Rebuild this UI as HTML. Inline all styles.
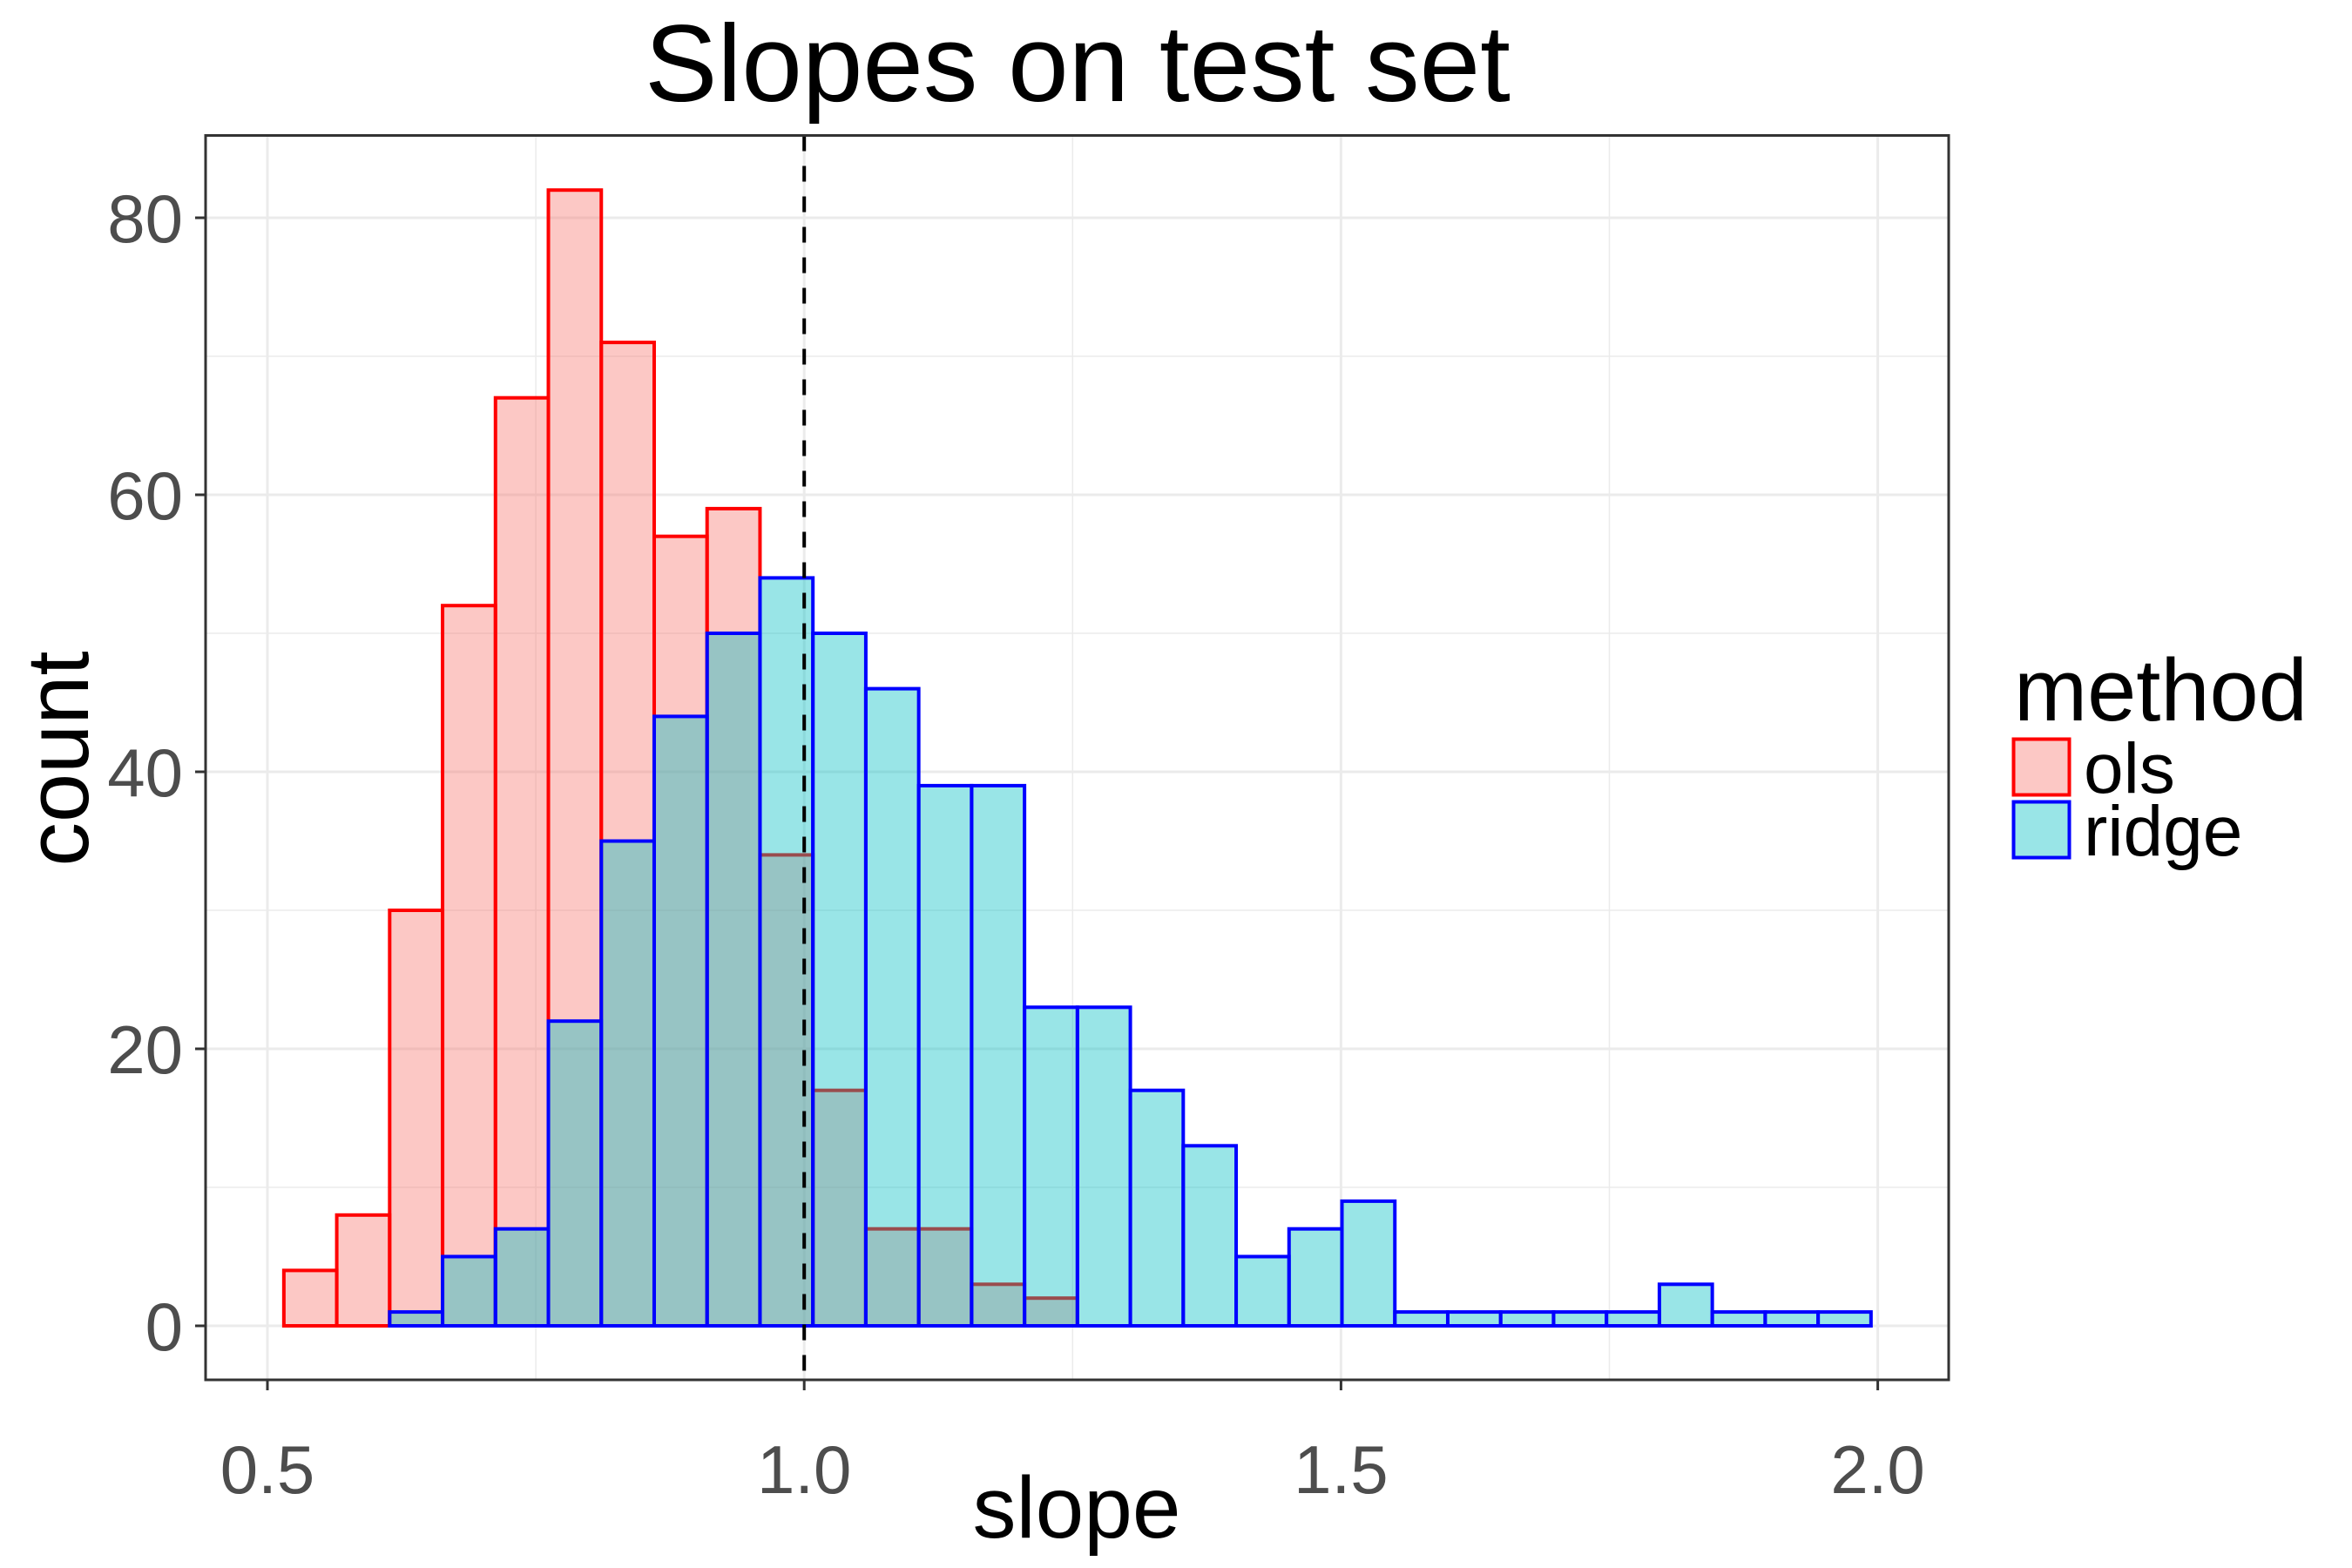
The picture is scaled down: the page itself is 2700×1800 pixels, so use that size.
<!DOCTYPE html>
<html><head><meta charset="utf-8"><style>
html,body{margin:0;padding:0;background:#fff;}
svg{display:block;font-family:"Liberation Sans",sans-serif;}
</style></head><body>
<svg id="chart" width="2700" height="1800" viewBox="0 0 2700 1800" xmlns="http://www.w3.org/2000/svg">
<rect x="0" y="0" width="2700" height="1800" fill="#fff"/>
<text x="1237" y="116" font-size="125" text-anchor="middle" fill="#000">Slopes on test set</text>
<g id="grid"></g>
<g id="bars-ols"></g>
<g id="bars-ridge"></g>
<g id="ref"></g>
<rect x="236" y="155.5" width="2001" height="1428.5" fill="none" stroke="#333" stroke-width="3"/>
<g id="axes"></g>
<text x="1236" y="1765" font-size="100" text-anchor="middle" fill="#000">slope</text>
<text x="0" y="0" font-size="101" text-anchor="middle" fill="#000" transform="translate(101,871) rotate(-90)">count</text>
<g>
<text x="2312" y="827" font-size="101" fill="#000">method</text>
<g>
<rect x="2311.5" y="848.5" width="64" height="64" fill="#F8766D" fill-opacity="0.4" stroke="#ff0000" stroke-width="4"/>
<text x="2392" y="910" font-size="82" fill="#000">ols</text>
</g>
<g>
<rect x="2311.5" y="920.5" width="64" height="64" fill="#00BFC4" fill-opacity="0.4" stroke="#0000ff" stroke-width="4"/>
<text x="2392" y="982" font-size="82" fill="#000">ridge</text>
</g>
</g>
</svg>
<script>
const binStart = 0.5153;
const binWidth = 0.04928;
const olsCounts = [4,8,30,52,67,82,71,57,59,34,17,7,7,3,2,0,0,0,0,0,0,0,0,0,0,0,0,0,0,0];
const ridgeCounts = [0,0,1,5,7,22,35,44,50,54,50,46,39,39,23,23,17,13,5,7,9,1,1,1,1,1,3,1,1,1];
const xTicks = [0.5,1.0,1.5,2.0];
const xTickLabels = ["0.5","1.0","1.5","2.0"];
const xMinor = [0.75,1.25,1.75];
const yTicks = [0,20,40,60,80];
const yTickLabels = ["0","20","40","60","80"];
const yMinor = [10,30,50,70];
const refLine = 1.0;

const NS="http://www.w3.org/2000/svg";
const PL=236,PR=2237,PT=155.5,PB=1584;
function sx(v){return 307+(v-0.5)*1232.4;}
function sy(v){return 1522-v*15.9;}
function mk(tag,attrs,parent){const e=document.createElementNS(NS,tag);for(const k in attrs)e.setAttribute(k,attrs[k]);parent.appendChild(e);return e;}

const grid=document.getElementById('grid');
yMinor.forEach(v=>{const l=mk('line',{x1:PL,x2:PR,y1:sy(v),y2:sy(v),stroke:'#ebebeb','stroke-width':1.5},grid);

});
xMinor.forEach(v=>{const l=mk('line',{x1:sx(v),x2:sx(v),y1:PT,y2:PB,stroke:'#ebebeb','stroke-width':1.5},grid);

});
yTicks.forEach(v=>{const l=mk('line',{x1:PL,x2:PR,y1:sy(v),y2:sy(v),stroke:'#ebebeb','stroke-width':3},grid);

});
xTicks.forEach(v=>{const l=mk('line',{x1:sx(v),x2:sx(v),y1:PT,y2:PB,stroke:'#ebebeb','stroke-width':3},grid);

});

function drawBars(counts,gid,fill,stroke,name){
  const g=document.getElementById(gid);
  counts.forEach((c,i)=>{
    const x0=sx(binStart+i*binWidth),x1=sx(binStart+(i+1)*binWidth);
    const r=mk('rect',{x:x0,y:sy(c),width:x1-x0,height:sy(0)-sy(c),fill:fill,'fill-opacity':0.4,stroke:stroke,'stroke-width':4},g);
    
    
  });
}
drawBars(olsCounts,'bars-ols','#F8766D','#ff0000','ols');
drawBars(ridgeCounts,'bars-ridge','#00BFC4','#0000ff','ridge');

const ref=document.getElementById('ref');
const rl=mk('line',{x1:sx(refLine),x2:sx(refLine),y1:PT,y2:PB,stroke:'#000','stroke-width':4,'stroke-dasharray':'18,17'},ref);



const axes=document.getElementById('axes');
yTicks.forEach((v,i)=>{
  const t=mk('line',{x1:PL-12,x2:PL,y1:sy(v),y2:sy(v),stroke:'#333','stroke-width':3},axes);
  
  
  const tx=mk('text',{x:210,y:sy(v)+28,'font-size':78,'text-anchor':'end',fill:'#4d4d4d'},axes);
  tx.textContent=yTickLabels[i];
  
  
});
xTicks.forEach((v,i)=>{
  const t=mk('line',{x1:sx(v),x2:sx(v),y1:PB,y2:PB+12,stroke:'#333','stroke-width':3},axes);
  
  
  const tx=mk('text',{x:sx(v),y:1714,'font-size':78,'text-anchor':'middle',fill:'#4d4d4d'},axes);
  tx.textContent=xTickLabels[i];
  
  
});
</script>
</body></html>
